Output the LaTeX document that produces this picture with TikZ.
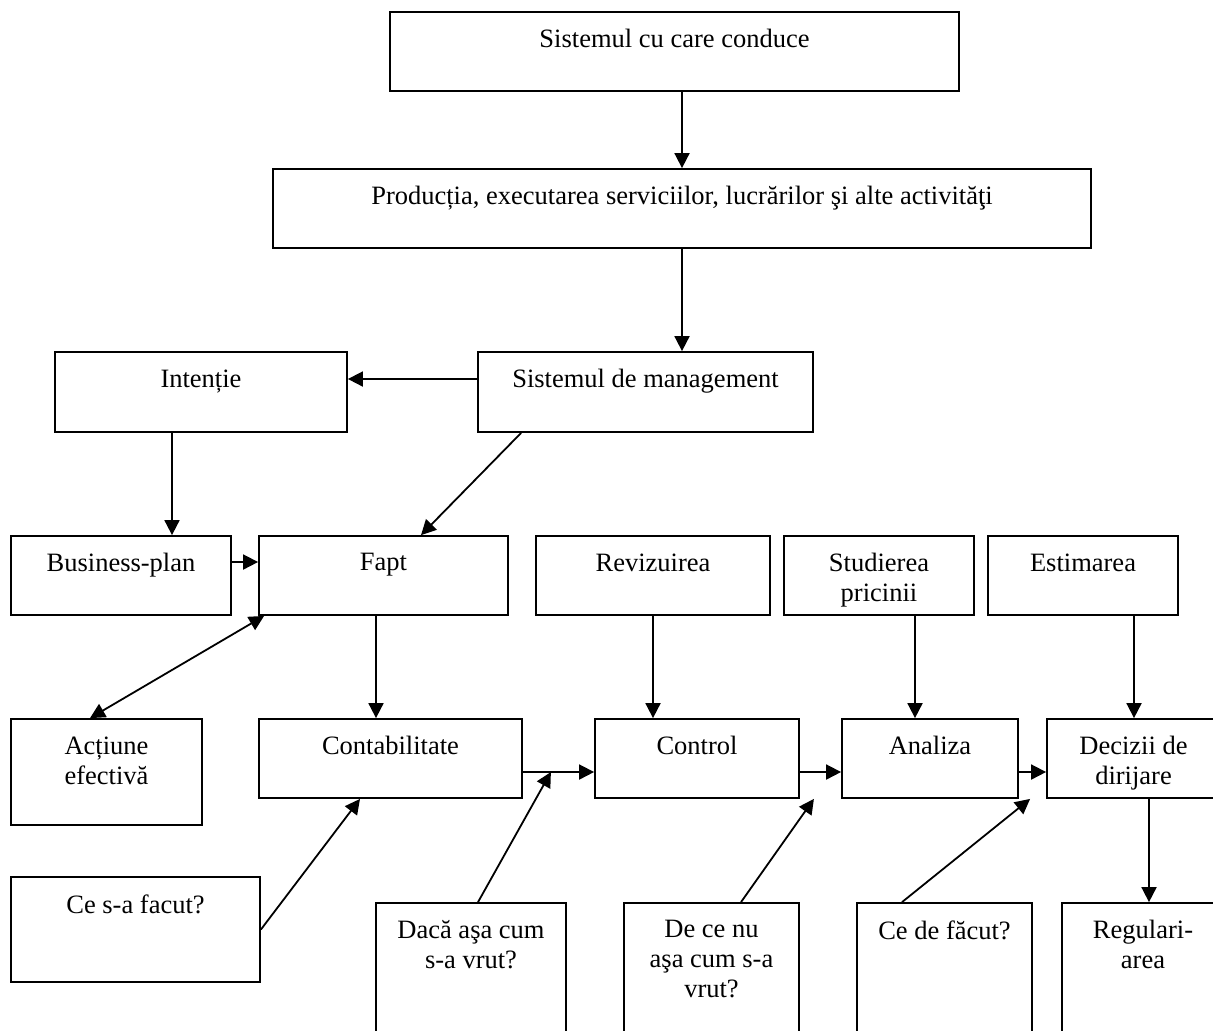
\documentclass[tikz,border=0pt]{standalone}
\usepackage{fontspec}
\setmainfont{Liberation Serif}
\usetikzlibrary{arrows.meta}

\begin{document}
\begin{tikzpicture}[x=0.5pt, y=-0.5pt,
				>={Triangle[length=7.5pt,width=7.5pt]},   %Pfeilspitzen
				box/.style 2 args={draw, line width=0.9pt, minimum width=#1*0.5pt, minimum height=#2*0.5pt, inner sep=0pt},
				lbl/.style={anchor=north, inner sep=0pt, yshift=-9pt, align=center, font=\fontsize{13.25}{15}\selectfont},
				conn/.style={->, line width=0.9pt}]
				\useasboundingbox (0,0) rectangle (1213,1030);
				% Kaesten oben
				\node[box={569}{79}, label={[lbl]north:{Sistemul cu care conduce}}] (sist) at (674.5,51.5) {};
				\node[box={818}{79}, label={[lbl]north:{Producția, executarea serviciilor, lucrărilor şi alte activităţi}}] (prod) at (682,208.5) {};
				\node[box={335}{80}, label={[lbl]north:{Sistemul de management}}] (mgmt) at (645.5,392) {};
				\node[box={292}{80}, label={[lbl]north:{Intenție}}] (intentie) at (201,392) {};
				% mittlere Reihe
				\node[box={220}{79}, label={[lbl]north:{Business-plan}}] (bplan) at (121,575.5) {};
				\node[box={249}{79}, label={[lbl]north:{Fapt}}] (fapt) at (383.5,575.5) {};
				\node[box={234}{79}, label={[lbl]north:{Revizuirea}}] (reviz) at (653,575.5) {};
				\node[box={190}{79}, label={[lbl]north:{Studierea\\pricinii}}] (studiu) at (879,575.5) {};
				\node[box={190}{79}, label={[lbl]north:{Estimarea}}] (estim) at (1083,575.5) {};
				% Kette
				\node[box={191}{106}, label={[lbl]north:{Acțiune\\efectivă}}] (actiune) at (106.5,772) {};
				\node[box={263}{79}, label={[lbl]north:{Contabilitate}}] (contab) at (390.5,758.5) {};
				\node[box={204}{79}, label={[lbl]north:{Control}}] (control) at (697,758.5) {};
				\node[box={176}{79}, label={[lbl]north:{Analiza}}] (analiza) at (930,758.5) {};
				\node[box={173}{79}, label={[lbl]north:{Decizii de\\dirijare}}] (decizii) at (1133.5,758.5) {};
				% Fragen unten
				\node[box={249}{105}, label={[lbl]north:{Ce s-a facut?}}] (cefacut) at (135.5,929.5) {};
				\node[box={190}{157}, label={[lbl]north:{Dacă aşa cum\\s-a vrut?}}] (daca) at (471,981.5) {};
				\node[box={175}{157}, label={[lbl]north:{De ce nu\\aşa cum s-a\\vrut?}}] (dece) at (711.5,981.5) {};
				\node[box={175}{157}, label={[lbl]north:{Ce de făcut?}}] (cedefacut) at (944.5,981.5) {};
				\node[box={162}{157}, label={[lbl]north:{Regulari-\\area}}] (regul) at (1143,981.5) {};
				% Pfeile
				\draw[conn] (prod.north |- sist.south) -- (prod.north);
				\draw[conn] (prod.south) -- (prod.south |- mgmt.north);
				\draw[conn] ([yshift=6.5pt]mgmt.west) -- ([yshift=6.5pt]intentie.east);
				\draw[conn] ([xshift=-14.5pt]intentie.south) -- ([xshift=-14.5pt]intentie.south |- bplan.north);
				\draw[conn] ([xshift=22pt]mgmt.south west) -- ([xshift=18.75pt]fapt.north);
				\draw[conn] ([yshift=6.75pt]bplan.east) -- ([yshift=6.75pt]fapt.west);
				\draw[<->, line width=0.9pt] ([xshift=-8.25pt]actiune.north) -- ([xshift=3pt]fapt.south west);
				\draw[conn] ([xshift=-3.75pt]fapt.south) -- ([xshift=-3.75pt]fapt.south |- contab.north);
				\draw[conn] (reviz.south) -- (reviz.south |- control.north);
				\draw[conn] ([xshift=18pt]studiu.south) -- ([xshift=18pt]studiu.south |- analiza.north);
				\draw[conn] ([xshift=25.5pt]estim.south) -- ([xshift=25.5pt]estim.south |- decizii.north);
				\draw[conn] ([yshift=-6.75pt]contab.east) -- ([yshift=-6.75pt]control.west);
				\draw[conn] ([yshift=-6.75pt]control.east) -- ([yshift=-6.75pt]analiza.west);
				\draw[conn] ([yshift=-6.75pt]analiza.east) -- ([yshift=-6.75pt]decizii.west);
				\draw[conn] ([xshift=7.75pt]decizii.south) -- ([xshift=7.75pt]decizii.south |- regul.north);
				% Fragen
				\draw[conn] (cefacut.east) -- ([xshift=-15.25pt]contab.south);
				\coordinate (contrl) at ([xshift=14pt,yshift=-6.75pt]contab.east);
				\draw[conn] ([xshift=3.5pt]daca.north) -- (contrl);
				\draw[conn] ([xshift=14.75pt]dece.north) -- ([xshift=7pt]control.south east);
				\draw[conn] ([xshift=-21.25pt]cedefacut.north) -- ([xshift=-8pt]decizii.south west);
			\end{tikzpicture}
\end{document}
